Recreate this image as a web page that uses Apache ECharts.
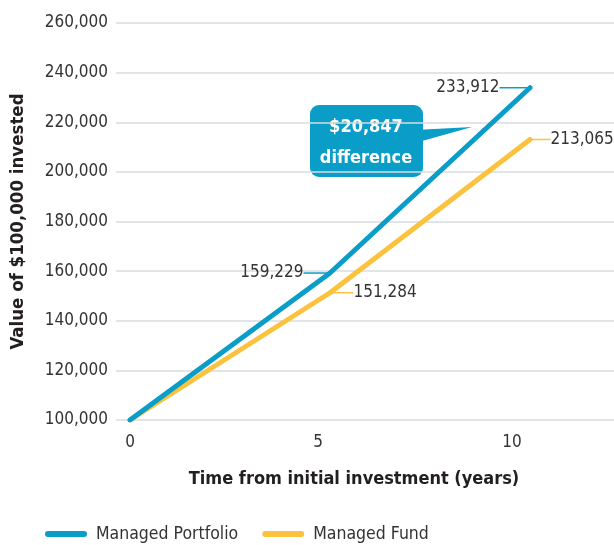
<!DOCTYPE html>
<html>
<head>
<meta charset="utf-8">
<script src="https://cdn.jsdelivr.net/npm/echarts@6/dist/echarts.min.js"></script>
<style>
  html, body { margin: 0; padding: 0; background: #fff; }
  #chart { width: 614px; height: 545px; }
</style>
</head>
<body>
<div id="chart"></div>
<script>
const years = [0, 5, 10];
const portfolio = [100000, 159229, 233912];
const fund = [100000, 151284, 213065];
const xTicks = [0, 5, 10];
const yMin = 100000;
const yMax = 260000;
const yStep = 20000;
const difference = '$20,847';

const FONT = "'Liberation Sans Narrow', 'DejaVu Sans Condensed', 'Roboto Condensed', sans-serif";
const BLUE = '#0a9dc8';
const YELLOW = '#fbc23d';
const TEXT = '#333333';

const fmt = v => v.toLocaleString('en-US');

// label placement: which side of the point, and extra shift
const blueSides = ['left', 'left', 'left'];
const yellowSides = ['right', 'right', 'right'];
const blueDx = [0, -18, -22];
const yellowDx = [0, 15, 12];

function makeData(values, sides) {
  return years.map((y, i) => ({
    value: [y, values[i]],
    label: { show: i > 0, position: sides[i] }
  }));
}

const chart = echarts.init(document.getElementById('chart'));

const seriesLabel = {
  formatter: p => fmt(p.value[1]),
  fontFamily: FONT,
  fontSize: 17,
  color: TEXT,
  padding: [0, 3]
};

chart.setOption({
  animation: false,
  textStyle: { fontFamily: FONT },
  grid: { left: 116, right: 0, top: 23, bottom: 125, outerBoundsMode: 'none', containLabel: false },
  xAxis: {
    type: 'value',
    min: -0.35,
    max: 12.1,
    name: 'Time from initial investment (years)',
    nameLocation: 'middle',
    nameGap: 50,
    nameTextStyle: { fontFamily: FONT, fontSize: 18, fontWeight: 'bold', color: '#231f20', padding: [0, 22, 0, 0] },
    axisLine: { show: false },
    axisTick: { show: false },
    splitLine: { show: false },
    axisLabel: {
      customValues: xTicks,
      margin: 14,
      formatter: v => v === 5 ? '{a|5}' : v === 10 ? '{b|10}' : '{c|' + v + '}',
      rich: {
        a: { fontFamily: FONT, fontSize: 17, color: TEXT, padding: [0, 24, 0, 0] },
        b: { fontFamily: FONT, fontSize: 17, color: TEXT, padding: [0, 36, 0, 0] },
        c: { fontFamily: FONT, fontSize: 17, color: TEXT }
      }
    }
  },
  yAxis: {
    type: 'value',
    min: yMin,
    max: yMax,
    interval: yStep,
    name: 'Value of $100,000 invested',
    nameLocation: 'middle',
    nameRotate: 90,
    nameGap: 88,
    nameTextStyle: { fontFamily: FONT, fontSize: 18.5, fontWeight: 'bold', color: '#231f20' },
    axisLine: { show: false },
    axisTick: { show: false },
    axisLabel: { formatter: fmt, fontFamily: FONT, fontSize: 17, color: TEXT, margin: 8 },
    splitLine: { lineStyle: { color: '#d8dddf', width: 1.5 } }
  },
  legend: {
    left: 40,
    top: 520,
    itemWidth: 42,
    itemHeight: 6,
    itemGap: 24,
    icon: 'path://M3,0 L39,0 A3,3 0 0,1 39,6 L3,6 A3,3 0 0,1 3,0 Z',
    textStyle: { fontFamily: FONT, fontSize: 17.5, color: TEXT, padding: [0, 0, 0, 4] },
    data: ['Managed Portfolio', 'Managed Fund']
  },
  series: [
    {
      name: 'Managed Fund',
      type: 'line',
      data: makeData(fund, yellowSides),
      symbol: 'circle',
      symbolSize: 1,
      color: YELLOW,
      lineStyle: { width: 5, color: YELLOW, cap: 'round', join: 'round' },
      label: seriesLabel,
      labelLine: { show: true, lineStyle: { color: YELLOW, width: 1.5 } },
      labelLayout: p => ({ dx: yellowDx[p.dataIndex] }),
      z: 2
    },
    {
      name: 'Managed Portfolio',
      type: 'line',
      data: makeData(portfolio, blueSides),
      symbol: 'circle',
      symbolSize: 1,
      color: BLUE,
      lineStyle: { width: 5, color: BLUE, cap: 'round', join: 'round' },
      label: seriesLabel,
      labelLine: { show: true, lineStyle: { color: BLUE, width: 1.5 } },
      labelLayout: p => ({ dx: blueDx[p.dataIndex] }),
      z: 3
    }
  ],
  graphic: [
    {
      type: 'group',
      left: 310,
      top: 105,
      children: [
        {
          type: 'polygon',
          shape: { points: [[105, 25], [162, 22], [105, 38]] },
          style: { fill: BLUE }
        },
        {
          type: 'rect',
          shape: { x: 0, y: 0, width: 113, height: 72, r: 9 },
          style: { fill: BLUE }
        },
        {
          type: 'text',
          x: 56,
          y: 38,
          style: {
            text: difference + '\ndifference',
            fill: '#fff',
            font: "bold 18px 'Liberation Sans Narrow', 'DejaVu Sans Condensed', sans-serif",
            lineHeight: 31,
            align: 'center',
            verticalAlign: 'middle'
          }
        }
      ]
    }
  ]
});
</script>
</body>
</html>
